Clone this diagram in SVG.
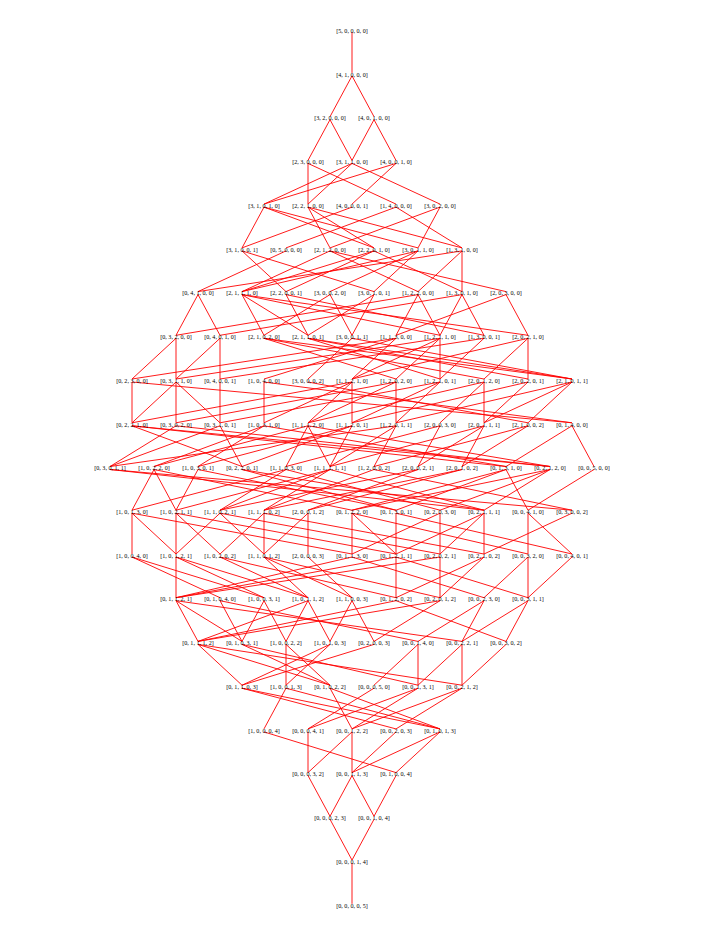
<svg xmlns="http://www.w3.org/2000/svg" width="723" height="935" viewBox="0 0 723 935">
<style>
.e{fill:none;stroke:#ff0000;stroke-width:0.9}
text{font-family:"Liberation Serif","Times New Roman",serif;font-size:6.1px;fill:#000;text-anchor:middle}
</style>
<rect width="723" height="935" fill="#fff"/>
<g id="edges">
<path class="e" d="M352 32.2L352 72.9"/>
<path class="e" d="M352 75.9L330 116.7M352 75.9L374 116.7"/>
<path class="e" d="M330 119.7L308 160.4M330 119.7L352 160.4M374 119.7L352 160.4M374 119.7L396 160.4"/>
<path class="e" d="M308 163.4L396 204.1M308 163.4L308 204.1M352 163.4L308 204.1M352 163.4L440 204.1M352 163.4L264 204.1M396 163.4L264 204.1M396 163.4L352 204.1"/>
<path class="e" d="M264 207.1L374 247.9M264 207.1L418 247.9M264 207.1L242 247.9M308 207.1L462 247.9M308 207.1L330 247.9M308 207.1L374 247.9M352 207.1L242 247.9M396 207.1L286 247.9M396 207.1L462 247.9M440 207.1L330 247.9M440 207.1L418 247.9"/>
<path class="e" d="M242 250.9L286 291.6M242 250.9L374 291.6M286 250.9L198 291.6M330 250.9L418 291.6M330 250.9L506 291.6M330 250.9L242 291.6M374 250.9L462 291.6M374 250.9L242 291.6M374 250.9L286 291.6M418 250.9L242 291.6M418 250.9L330 291.6M418 250.9L374 291.6M462 250.9L198 291.6M462 250.9L418 291.6M462 250.9L462 291.6"/>
<path class="e" d="M198 294.6L176 335.3M198 294.6L220 335.3M242 294.6L440 335.3M242 294.6L528 335.3M242 294.6L264 335.3M242 294.6L308 335.3M286 294.6L484 335.3M286 294.6L308 335.3M330 294.6L264 335.3M330 294.6L352 335.3M374 294.6L308 335.3M374 294.6L352 335.3M418 294.6L176 335.3M418 294.6L396 335.3M418 294.6L440 335.3M462 294.6L220 335.3M462 294.6L440 335.3M462 294.6L484 335.3M506 294.6L396 335.3M506 294.6L528 335.3"/>
<path class="e" d="M176 338.3L132 379M176 338.3L176 379M220 338.3L176 379M220 338.3L220 379M264 338.3L396 379M264 338.3L484 379M264 338.3L572 379M308 338.3L440 379M308 338.3L528 379M308 338.3L572 379M352 338.3L572 379M352 338.3L308 379M396 338.3L132 379M396 338.3L264 379M396 338.3L352 379M440 338.3L176 379M440 338.3L352 379M440 338.3L396 379M440 338.3L440 379M484 338.3L220 379M484 338.3L440 379M528 338.3L352 379M528 338.3L484 379M528 338.3L528 379"/>
<path class="e" d="M132 382L572 422.8M132 382L132 422.8M176 382L132 422.8M176 382L176 422.8M176 382L220 422.8M220 382L220 422.8M264 382L572 422.8M264 382L264 422.8M308 382L528 422.8M352 382L132 422.8M352 382L264 422.8M352 382L308 422.8M352 382L352 422.8M396 382L176 422.8M396 382L308 422.8M396 382L396 422.8M440 382L220 422.8M440 382L352 422.8M440 382L396 422.8M484 382L308 422.8M484 382L440 422.8M484 382L484 422.8M528 382L352 422.8M528 382L484 422.8M572 382L396 422.8M572 382L484 422.8M572 382L528 422.8"/>
<path class="e" d="M132 425.8L506 466.5M132 425.8L550 466.5M132 425.8L242 466.5M176 425.8L550 466.5M176 425.8L110 466.5M220 425.8L242 466.5M220 425.8L110 466.5M264 425.8L506 466.5M264 425.8L154 466.5M264 425.8L198 466.5M308 425.8L550 466.5M308 425.8L154 466.5M308 425.8L286 466.5M308 425.8L330 466.5M352 425.8L242 466.5M352 425.8L198 466.5M352 425.8L330 466.5M396 425.8L110 466.5M396 425.8L330 466.5M396 425.8L374 466.5M440 425.8L286 466.5M440 425.8L418 466.5M484 425.8L330 466.5M484 425.8L418 466.5M484 425.8L462 466.5M528 425.8L374 466.5M528 425.8L462 466.5M572 425.8L594 466.5M572 425.8L506 466.5"/>
<path class="e" d="M110 469.5L484 510.2M110 469.5L572 510.2M154 469.5L352 510.2M154 469.5L132 510.2M154 469.5L176 510.2M198 469.5L396 510.2M198 469.5L176 510.2M242 469.5L396 510.2M242 469.5L484 510.2M286 469.5L440 510.2M286 469.5L132 510.2M286 469.5L220 510.2M330 469.5L484 510.2M330 469.5L176 510.2M330 469.5L220 510.2M330 469.5L264 510.2M374 469.5L572 510.2M374 469.5L264 510.2M418 469.5L220 510.2M418 469.5L308 510.2M462 469.5L264 510.2M462 469.5L308 510.2M506 469.5L528 510.2M506 469.5L352 510.2M506 469.5L396 510.2M550 469.5L352 510.2M550 469.5L440 510.2M550 469.5L484 510.2M594 469.5L528 510.2"/>
<path class="e" d="M132 513.2L352 554M132 513.2L132 554M132 513.2L176 554M176 513.2L396 554M176 513.2L176 554M176 513.2L220 554M220 513.2L440 554M220 513.2L176 554M220 513.2L264 554M264 513.2L484 554M264 513.2L220 554M264 513.2L264 554M308 513.2L264 554M308 513.2L308 554M352 513.2L528 554M352 513.2L352 554M352 513.2L396 554M396 513.2L572 554M396 513.2L396 554M440 513.2L352 554M440 513.2L440 554M484 513.2L396 554M484 513.2L440 554M484 513.2L484 554M528 513.2L528 554M528 513.2L572 554M572 513.2L484 554"/>
<path class="e" d="M132 557L220 597.7M132 557L264 597.7M176 557L176 597.7M176 557L264 597.7M176 557L308 597.7M220 557L396 597.7M220 557L308 597.7M264 557L440 597.7M264 557L308 597.7M264 557L352 597.7M308 557L352 597.7M352 557L484 597.7M352 557L176 597.7M396 557L528 597.7M396 557L176 597.7M396 557L396 597.7M440 557L176 597.7M440 557L440 597.7M484 557L396 597.7M484 557L440 597.7M528 557L484 597.7M528 557L528 597.7M572 557L528 597.7"/>
<path class="e" d="M176 600.7L462 641.4M176 600.7L242 641.4M176 600.7L198 641.4M220 600.7L418 641.4M220 600.7L242 641.4M264 600.7L242 641.4M264 600.7L286 641.4M308 600.7L198 641.4M308 600.7L286 641.4M308 600.7L330 641.4M352 600.7L374 641.4M352 600.7L330 641.4M396 600.7L506 641.4M396 600.7L198 641.4M440 600.7L198 641.4M440 600.7L374 641.4M484 600.7L418 641.4M484 600.7L462 641.4M528 600.7L462 641.4M528 600.7L506 641.4"/>
<path class="e" d="M198 644.4L462 685.2M198 644.4L330 685.2M198 644.4L242 685.2M242 644.4L418 685.2M242 644.4L330 685.2M286 644.4L330 685.2M286 644.4L286 685.2M330 644.4L242 685.2M330 644.4L286 685.2M374 644.4L242 685.2M418 644.4L374 685.2M418 644.4L418 685.2M462 644.4L418 685.2M462 644.4L462 685.2M506 644.4L462 685.2"/>
<path class="e" d="M242 688.2L396 728.9M242 688.2L440 728.9M286 688.2L440 728.9M286 688.2L264 728.9M330 688.2L352 728.9M330 688.2L440 728.9M374 688.2L308 728.9M418 688.2L308 728.9M418 688.2L352 728.9M462 688.2L352 728.9M462 688.2L396 728.9"/>
<path class="e" d="M264 731.9L396 772.6M308 731.9L308 772.6M352 731.9L308 772.6M352 731.9L352 772.6M396 731.9L352 772.6M440 731.9L352 772.6M440 731.9L396 772.6"/>
<path class="e" d="M308 775.6L330 816.3M352 775.6L330 816.3M352 775.6L374 816.3M396 775.6L374 816.3"/>
<path class="e" d="M330 819.3L352 860.1M374 819.3L352 860.1"/>
<path class="e" d="M352 863.1L352 903.8"/>
</g>
<g id="nodes">
<g id="n50000"><text x="352" y="32.9">[5, 0, 0, 0, 0]</text></g>
<g id="n41000"><text x="352" y="76.6">[4, 1, 0, 0, 0]</text></g>
<g id="n32000"><text x="330" y="120.4">[3, 2, 0, 0, 0]</text></g>
<g id="n40100"><text x="374" y="120.4">[4, 0, 1, 0, 0]</text></g>
<g id="n23000"><text x="308" y="164.1">[2, 3, 0, 0, 0]</text></g>
<g id="n31100"><text x="352" y="164.1">[3, 1, 1, 0, 0]</text></g>
<g id="n40010"><text x="396" y="164.1">[4, 0, 0, 1, 0]</text></g>
<g id="n31010"><text x="264" y="207.8">[3, 1, 0, 1, 0]</text></g>
<g id="n22100"><text x="308" y="207.8">[2, 2, 1, 0, 0]</text></g>
<g id="n40001"><text x="352" y="207.8">[4, 0, 0, 0, 1]</text></g>
<g id="n14000"><text x="396" y="207.8">[1, 4, 0, 0, 0]</text></g>
<g id="n30200"><text x="440" y="207.8">[3, 0, 2, 0, 0]</text></g>
<g id="n31001"><text x="242" y="251.6">[3, 1, 0, 0, 1]</text></g>
<g id="n05000"><text x="286" y="251.6">[0, 5, 0, 0, 0]</text></g>
<g id="n21200"><text x="330" y="251.6">[2, 1, 2, 0, 0]</text></g>
<g id="n22010"><text x="374" y="251.6">[2, 2, 0, 1, 0]</text></g>
<g id="n30110"><text x="418" y="251.6">[3, 0, 1, 1, 0]</text></g>
<g id="n13100"><text x="462" y="251.6">[1, 3, 1, 0, 0]</text></g>
<g id="n04100"><text x="198" y="295.3">[0, 4, 1, 0, 0]</text></g>
<g id="n21110"><text x="242" y="295.3">[2, 1, 1, 1, 0]</text></g>
<g id="n22001"><text x="286" y="295.3">[2, 2, 0, 0, 1]</text></g>
<g id="n30020"><text x="330" y="295.3">[3, 0, 0, 2, 0]</text></g>
<g id="n30101"><text x="374" y="295.3">[3, 0, 1, 0, 1]</text></g>
<g id="n12200"><text x="418" y="295.3">[1, 2, 2, 0, 0]</text></g>
<g id="n13010"><text x="462" y="295.3">[1, 3, 0, 1, 0]</text></g>
<g id="n20300"><text x="506" y="295.3">[2, 0, 3, 0, 0]</text></g>
<g id="n03200"><text x="176" y="339">[0, 3, 2, 0, 0]</text></g>
<g id="n04010"><text x="220" y="339">[0, 4, 0, 1, 0]</text></g>
<g id="n21020"><text x="264" y="339">[2, 1, 0, 2, 0]</text></g>
<g id="n21101"><text x="308" y="339">[2, 1, 1, 0, 1]</text></g>
<g id="n30011"><text x="352" y="339">[3, 0, 0, 1, 1]</text></g>
<g id="n11300"><text x="396" y="339">[1, 1, 3, 0, 0]</text></g>
<g id="n12110"><text x="440" y="339">[1, 2, 1, 1, 0]</text></g>
<g id="n13001"><text x="484" y="339">[1, 3, 0, 0, 1]</text></g>
<g id="n20210"><text x="528" y="339">[2, 0, 2, 1, 0]</text></g>
<g id="n02300"><text x="132" y="382.7">[0, 2, 3, 0, 0]</text></g>
<g id="n03110"><text x="176" y="382.7">[0, 3, 1, 1, 0]</text></g>
<g id="n04001"><text x="220" y="382.7">[0, 4, 0, 0, 1]</text></g>
<g id="n10400"><text x="264" y="382.7">[1, 0, 4, 0, 0]</text></g>
<g id="n30002"><text x="308" y="382.7">[3, 0, 0, 0, 2]</text></g>
<g id="n11210"><text x="352" y="382.7">[1, 1, 2, 1, 0]</text></g>
<g id="n12020"><text x="396" y="382.7">[1, 2, 0, 2, 0]</text></g>
<g id="n12101"><text x="440" y="382.7">[1, 2, 1, 0, 1]</text></g>
<g id="n20120"><text x="484" y="382.7">[2, 0, 1, 2, 0]</text></g>
<g id="n20201"><text x="528" y="382.7">[2, 0, 2, 0, 1]</text></g>
<g id="n21011"><text x="572" y="382.7">[2, 1, 0, 1, 1]</text></g>
<g id="n02210"><text x="132" y="426.5">[0, 2, 2, 1, 0]</text></g>
<g id="n03020"><text x="176" y="426.5">[0, 3, 0, 2, 0]</text></g>
<g id="n03101"><text x="220" y="426.5">[0, 3, 1, 0, 1]</text></g>
<g id="n10310"><text x="264" y="426.5">[1, 0, 3, 1, 0]</text></g>
<g id="n11120"><text x="308" y="426.5">[1, 1, 1, 2, 0]</text></g>
<g id="n11201"><text x="352" y="426.5">[1, 1, 2, 0, 1]</text></g>
<g id="n12011"><text x="396" y="426.5">[1, 2, 0, 1, 1]</text></g>
<g id="n20030"><text x="440" y="426.5">[2, 0, 0, 3, 0]</text></g>
<g id="n20111"><text x="484" y="426.5">[2, 0, 1, 1, 1]</text></g>
<g id="n21002"><text x="528" y="426.5">[2, 1, 0, 0, 2]</text></g>
<g id="n01400"><text x="572" y="426.5">[0, 1, 4, 0, 0]</text></g>
<g id="n03011"><text x="110" y="470.2">[0, 3, 0, 1, 1]</text></g>
<g id="n10220"><text x="154" y="470.2">[1, 0, 2, 2, 0]</text></g>
<g id="n10301"><text x="198" y="470.2">[1, 0, 3, 0, 1]</text></g>
<g id="n02201"><text x="242" y="470.2">[0, 2, 2, 0, 1]</text></g>
<g id="n11030"><text x="286" y="470.2">[1, 1, 0, 3, 0]</text></g>
<g id="n11111"><text x="330" y="470.2">[1, 1, 1, 1, 1]</text></g>
<g id="n12002"><text x="374" y="470.2">[1, 2, 0, 0, 2]</text></g>
<g id="n20021"><text x="418" y="470.2">[2, 0, 0, 2, 1]</text></g>
<g id="n20102"><text x="462" y="470.2">[2, 0, 1, 0, 2]</text></g>
<g id="n01310"><text x="506" y="470.2">[0, 1, 3, 1, 0]</text></g>
<g id="n02120"><text x="550" y="470.2">[0, 2, 1, 2, 0]</text></g>
<g id="n00500"><text x="594" y="470.2">[0, 0, 5, 0, 0]</text></g>
<g id="n10130"><text x="132" y="513.9">[1, 0, 1, 3, 0]</text></g>
<g id="n10211"><text x="176" y="513.9">[1, 0, 2, 1, 1]</text></g>
<g id="n11021"><text x="220" y="513.9">[1, 1, 0, 2, 1]</text></g>
<g id="n11102"><text x="264" y="513.9">[1, 1, 1, 0, 2]</text></g>
<g id="n20012"><text x="308" y="513.9">[2, 0, 0, 1, 2]</text></g>
<g id="n01220"><text x="352" y="513.9">[0, 1, 2, 2, 0]</text></g>
<g id="n01301"><text x="396" y="513.9">[0, 1, 3, 0, 1]</text></g>
<g id="n02030"><text x="440" y="513.9">[0, 2, 0, 3, 0]</text></g>
<g id="n02111"><text x="484" y="513.9">[0, 2, 1, 1, 1]</text></g>
<g id="n00410"><text x="528" y="513.9">[0, 0, 4, 1, 0]</text></g>
<g id="n03002"><text x="572" y="513.9">[0, 3, 0, 0, 2]</text></g>
<g id="n10040"><text x="132" y="557.7">[1, 0, 0, 4, 0]</text></g>
<g id="n10121"><text x="176" y="557.7">[1, 0, 1, 2, 1]</text></g>
<g id="n10202"><text x="220" y="557.7">[1, 0, 2, 0, 2]</text></g>
<g id="n11012"><text x="264" y="557.7">[1, 1, 0, 1, 2]</text></g>
<g id="n20003"><text x="308" y="557.7">[2, 0, 0, 0, 3]</text></g>
<g id="n01130"><text x="352" y="557.7">[0, 1, 1, 3, 0]</text></g>
<g id="n01211"><text x="396" y="557.7">[0, 1, 2, 1, 1]</text></g>
<g id="n02021"><text x="440" y="557.7">[0, 2, 0, 2, 1]</text></g>
<g id="n02102"><text x="484" y="557.7">[0, 2, 1, 0, 2]</text></g>
<g id="n00320"><text x="528" y="557.7">[0, 0, 3, 2, 0]</text></g>
<g id="n00401"><text x="572" y="557.7">[0, 0, 4, 0, 1]</text></g>
<g id="n01121"><text x="176" y="601.4">[0, 1, 1, 2, 1]</text></g>
<g id="n01040"><text x="220" y="601.4">[0, 1, 0, 4, 0]</text></g>
<g id="n10031"><text x="264" y="601.4">[1, 0, 0, 3, 1]</text></g>
<g id="n10112"><text x="308" y="601.4">[1, 0, 1, 1, 2]</text></g>
<g id="n11003"><text x="352" y="601.4">[1, 1, 0, 0, 3]</text></g>
<g id="n01202"><text x="396" y="601.4">[0, 1, 2, 0, 2]</text></g>
<g id="n02012"><text x="440" y="601.4">[0, 2, 0, 1, 2]</text></g>
<g id="n00230"><text x="484" y="601.4">[0, 0, 2, 3, 0]</text></g>
<g id="n00311"><text x="528" y="601.4">[0, 0, 3, 1, 1]</text></g>
<g id="n01112"><text x="198" y="645.1">[0, 1, 1, 1, 2]</text></g>
<g id="n01031"><text x="242" y="645.1">[0, 1, 0, 3, 1]</text></g>
<g id="n10022"><text x="286" y="645.1">[1, 0, 0, 2, 2]</text></g>
<g id="n10103"><text x="330" y="645.1">[1, 0, 1, 0, 3]</text></g>
<g id="n02003"><text x="374" y="645.1">[0, 2, 0, 0, 3]</text></g>
<g id="n00140"><text x="418" y="645.1">[0, 0, 1, 4, 0]</text></g>
<g id="n00221"><text x="462" y="645.1">[0, 0, 2, 2, 1]</text></g>
<g id="n00302"><text x="506" y="645.1">[0, 0, 3, 0, 2]</text></g>
<g id="n01103"><text x="242" y="688.9">[0, 1, 1, 0, 3]</text></g>
<g id="n10013"><text x="286" y="688.9">[1, 0, 0, 1, 3]</text></g>
<g id="n01022"><text x="330" y="688.9">[0, 1, 0, 2, 2]</text></g>
<g id="n00050"><text x="374" y="688.9">[0, 0, 0, 5, 0]</text></g>
<g id="n00131"><text x="418" y="688.9">[0, 0, 1, 3, 1]</text></g>
<g id="n00212"><text x="462" y="688.9">[0, 0, 2, 1, 2]</text></g>
<g id="n10004"><text x="264" y="732.6">[1, 0, 0, 0, 4]</text></g>
<g id="n00041"><text x="308" y="732.6">[0, 0, 0, 4, 1]</text></g>
<g id="n00122"><text x="352" y="732.6">[0, 0, 1, 2, 2]</text></g>
<g id="n00203"><text x="396" y="732.6">[0, 0, 2, 0, 3]</text></g>
<g id="n01013"><text x="440" y="732.6">[0, 1, 0, 1, 3]</text></g>
<g id="n00032"><text x="308" y="776.3">[0, 0, 0, 3, 2]</text></g>
<g id="n00113"><text x="352" y="776.3">[0, 0, 1, 1, 3]</text></g>
<g id="n01004"><text x="396" y="776.3">[0, 1, 0, 0, 4]</text></g>
<g id="n00023"><text x="330" y="820">[0, 0, 0, 2, 3]</text></g>
<g id="n00104"><text x="374" y="820">[0, 0, 1, 0, 4]</text></g>
<g id="n00014"><text x="352" y="863.8">[0, 0, 0, 1, 4]</text></g>
<g id="n00005"><text x="352" y="907.5">[0, 0, 0, 0, 5]</text></g>
</g>
</svg>
